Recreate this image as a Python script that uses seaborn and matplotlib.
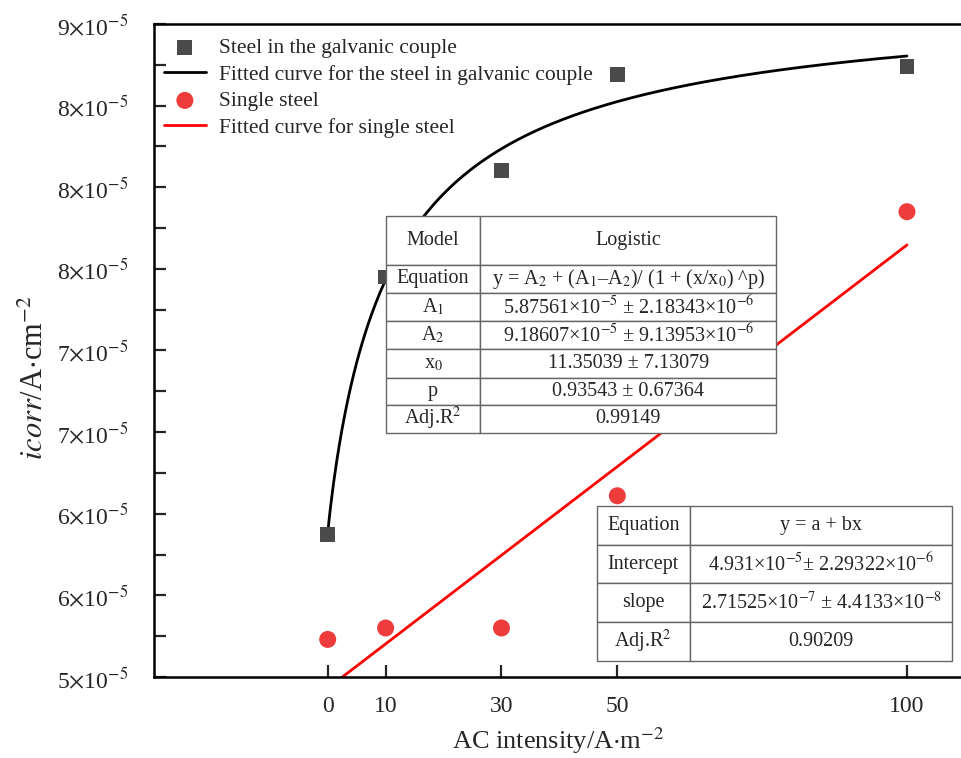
import numpy as np
import pandas as pd
import matplotlib
matplotlib.use("Agg")
import matplotlib.pyplot as plt
import seaborn as sns

# measured data
ac_intensity = [0, 10, 30, 50, 100]
icorr_couple = [5.87e-5, 7.45e-5, 8.10e-5, 8.69e-5, 8.74e-5]
icorr_single = [5.23e-5, 5.30e-5, 5.30e-5, 6.11e-5, 7.85e-5]

# fit parameters as printed in the tables
A1, A2, X0, P = 5.87561e-5, 9.18607e-5, 11.35039, 0.93543
INTERCEPT, SLOPE = 4.931e-5, 2.71525e-7

y_ticks = [5.0e-5, 5.5e-5, 6.0e-5, 6.5e-5, 7.0e-5, 7.5e-5, 8.0e-5, 8.5e-5, 9.0e-5]
y_tick_labels = ["5", "6", "6", "7", "7", "8", "8", "8", "9"]
x_ticks = [0, 10, 30, 50, 100]

logistic_rows = [
    ["Model", "Logistic"],
    ["Equation", r"y = A$_2$ + (A$_1$–A$_2$)/ (1 + (x/x$_0$) ^p)"],
    [r"A$_1$", r"5.87561×10$^{-5}$ ± 2.18343×10$^{-6}$"],
    [r"A$_2$", r"9.18607×10$^{-5}$ ± 9.13953×10$^{-6}$"],
    [r"x$_0$", "11.35039 ± 7.13079"],
    ["p", "0.93543 ± 0.67364"],
    [r"Adj.R$^2$", "0.99149"],
]
linear_rows = [
    ["Equation", "y = a + bx"],
    ["Intercept", r"4.931×10$^{-5}$± 2.29322×10$^{-6}$"],
    ["slope", r"2.71525×10$^{-7}$ ± 4.4133×10$^{-8}$"],
    [r"Adj.R$^2$", "0.90209"],
]

sns.set_style("ticks")
plt.rcParams["font.family"] = ["Liberation Serif", "DejaVu Serif"]
plt.rcParams["mathtext.fontset"] = "stix"

fig = plt.figure(figsize=(9.62, 7.58), dpi=100)
ax = fig.add_axes([0.160, 0.1069, 0.840, 0.8615])

# fitted curves from the printed parameters
x_fit = np.linspace(0, 100, 400)
fit_df = pd.DataFrame({
    "x": x_fit,
    "couple": A2 + (A1 - A2) / (1 + (x_fit / X0) ** P),
    "single": INTERCEPT + SLOPE * x_fit,
})
pts = pd.DataFrame({"x": ac_intensity, "couple": icorr_couple, "single": icorr_single})

sns.scatterplot(data=pts, x="x", y="couple", marker="s", s=115, color="#4a4a4a",
                edgecolor="none", ax=ax, label="Steel in the galvanic couple", zorder=3)
sns.lineplot(data=fit_df, x="x", y="couple", color="black", lw=2, ax=ax,
             label="Fitted curve for the steel in galvanic couple")
sns.scatterplot(data=pts, x="x", y="single", marker="o", s=150, color="#ee3b3b",
                edgecolor="none", ax=ax, label="Single steel", zorder=3)
sns.lineplot(data=fit_df, x="x", y="single", color="#ff0000", lw=2, ax=ax,
             label="Fitted curve for single steel")

ax.set_xlim(-30, 109.5)
ax.set_ylim(5e-5, 9e-5)
ax.set_xticks(x_ticks)
ax.set_xticklabels([str(t) for t in x_ticks], fontsize=17)
ax.set_yticks(y_ticks)
ax.set_yticklabels([r"%s$\times$10$^{-5}$" % s for s in y_tick_labels], fontsize=17)
ax.set_yticks(np.arange(5.25e-5, 9e-5, 0.5e-5), minor=True)
ax.tick_params(axis="both", which="both", direction="in", length=8.5, width=1.6)
ax.tick_params(axis="y", which="major", pad=18)
ax.tick_params(axis="x", pad=14)

ax.set_xlabel(r"AC intensity/A$\cdot$m$^{-2}$", fontsize=19, labelpad=6)
ax.set_ylabel(r"$\mathit{icorr}$/A$\cdot$cm$^{-2}$", fontsize=22)
ax.yaxis.set_label_coords(-0.128, 0.458)

for side in ["left", "bottom", "top"]:
    ax.spines[side].set_linewidth(1.8)
    ax.spines[side].set_color("black")
ax.spines["right"].set_visible(False)

ax.legend(loc="upper left", bbox_to_anchor=(-0.005, 1.0), frameon=False, fontsize=15.5,
          handlelength=1.95, labelspacing=0.3, handletextpad=0.6, borderaxespad=0.25)


def draw_table(rows, bbox, col_widths, heights):
    tab = ax.table(cellText=rows, cellLoc="center", bbox=bbox, colWidths=col_widths)
    tab.auto_set_font_size(False)
    for (r, c), cell in tab.get_celld().items():
        cell.set_edgecolor("#666666")
        cell.set_linewidth(1.0)
        cell.set_facecolor("white")
        cell.get_text().set_fontsize(14.5)
        cell.set_height(heights[r])
    tab.set_zorder(5)
    return tab


h1 = [49, 28, 29, 28, 29, 27, 28]
draw_table(logistic_rows, [0.287, 0.374, 0.483, 0.332], [0.117, 0.366],
           [h / sum(h1) * 0.332 for h in h1])
draw_table(linear_rows, [0.548, 0.0245, 0.440, 0.2375], [0.115, 0.325],
           [0.2375 / 4] * 4)

fig.savefig("out.png", dpi=100)
